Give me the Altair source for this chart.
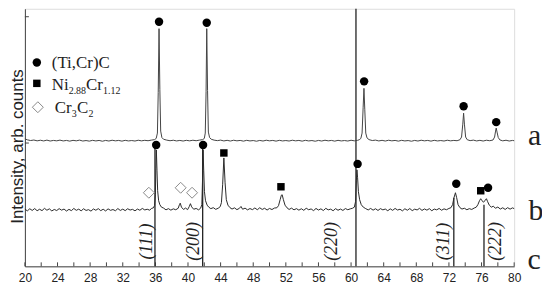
import altair as alt
import pandas as pd

# ---- data (2-theta in degrees, intensity in arbitrary units) ----
TRACE_A = [
    (20.0, 128.2), (20.3, 127.2), (20.7, 126.5), (21.1, 127.0), (21.5, 126.2), (21.9, 126.8),
    (22.3, 126.1), (22.7, 126.9), (23.1, 126.0), (23.5, 126.6), (23.9, 126.2), (24.3, 126.9),
    (24.7, 126.1), (25.1, 126.6), (25.5, 125.9), (25.9, 126.7), (26.3, 126.2), (26.7, 126.9),
    (27.1, 126.0), (27.5, 126.5), (27.9, 125.9), (28.3, 126.7), (28.7, 126.1), (29.1, 126.6),
    (29.5, 125.8), (29.9, 126.6), (30.3, 126.0), (30.7, 126.8), (31.1, 126.2), (31.5, 126.6),
    (31.9, 125.9), (32.3, 126.7), (32.7, 126.1), (33.1, 126.5), (33.5, 126.0), (33.9, 126.8),
    (34.3, 126.2), (34.7, 126.7), (35.1, 126.3), (35.5, 126.9), (35.9, 127.4), (36.1, 128.6),
    (36.25, 134), (36.35, 175), (36.45, 239), (36.55, 178), (36.65, 136), (36.8, 129.5),
    (37.0, 127.8), (37.4, 126.9), (37.8, 126.3), (38.2, 126.8), (38.6, 126.1), (39.0, 126.6),
    (39.4, 126.0), (39.8, 126.7), (40.2, 126.2), (40.6, 126.8), (41.0, 126.3), (41.4, 126.9),
    (41.8, 127.4), (42.0, 128.6), (42.12, 134), (42.22, 176), (42.3, 239), (42.4, 177),
    (42.5, 135), (42.65, 129.5), (42.85, 127.8), (43.2, 126.9), (43.6, 126.4), (44.0, 126.9),
    (44.4, 126.1), (44.8, 126.7), (45.2, 126.0), (45.6, 126.8), (46.0, 126.2), (46.4, 126.6),
    (46.8, 125.9), (47.2, 126.7), (47.6, 126.1), (48.0, 126.5), (48.4, 125.8), (48.8, 126.6),
    (49.2, 126.0), (49.6, 126.8), (50.0, 126.2), (50.4, 126.6), (50.8, 125.9), (51.2, 126.7),
    (51.6, 126.1), (52.0, 126.5), (52.4, 126.0), (52.8, 126.8), (53.2, 126.2), (53.6, 126.6),
    (54.0, 125.9), (54.4, 126.7), (54.8, 126.1), (55.2, 126.5), (55.6, 125.8), (56.0, 126.6),
    (56.4, 126.0), (56.8, 126.8), (57.2, 126.2), (57.6, 126.6), (58.0, 125.9), (58.4, 126.7),
    (58.8, 126.1), (59.2, 126.5), (59.6, 126.0), (60.0, 126.8), (60.4, 126.2), (60.8, 126.7),
    (61.0, 127.3), (61.2, 128.6), (61.35, 134), (61.48, 160), (61.58, 179), (61.68, 158),
    (61.8, 134), (61.95, 129.2), (62.2, 127.4), (62.6, 126.5), (63.0, 126.9), (63.4, 126.1),
    (63.8, 126.7), (64.2, 126.0), (64.6, 126.8), (65.0, 126.2), (65.4, 126.6), (65.8, 125.9),
    (66.2, 126.7), (66.6, 126.1), (67.0, 126.5), (67.4, 125.8), (67.8, 126.6), (68.2, 126.0),
    (68.6, 126.8), (69.0, 126.2), (69.4, 126.6), (69.8, 125.9), (70.2, 126.7), (70.6, 126.1),
    (71.0, 126.5), (71.4, 126.0), (71.8, 126.8), (72.2, 126.2), (72.6, 126.6), (73.0, 126.3),
    (73.35, 127.3), (73.55, 130), (73.7, 143), (73.8, 154), (73.9, 143), (74.05, 130),
    (74.25, 127.3), (74.6, 126.4), (75.0, 126.9), (75.4, 126.1), (75.8, 126.7), (76.2, 126.0),
    (76.6, 126.8), (77.0, 126.3), (77.4, 127.0), (77.6, 130), (77.72, 136), (77.8, 139),
    (77.9, 135), (78.05, 129.5), (78.25, 127.1), (78.6, 126.2), (79.0, 126.8), (79.4, 126.0),
    (79.8, 126.6), (80.0, 126.3),
]

TRACE_B = [
    (20.0, 57.5), (20.3, 55.8), (20.6, 57.9), (20.9, 56.2), (21.2, 58.1), (21.5, 55.9),
    (21.8, 57.4), (22.1, 56.0), (22.4, 58.3), (22.7, 56.4), (23.0, 57.8), (23.3, 55.7),
    (23.6, 57.2), (23.9, 56.1), (24.2, 58.0), (24.5, 56.5), (24.8, 57.6), (25.1, 55.6),
    (25.4, 57.3), (25.7, 56.0), (26.0, 58.2), (26.3, 56.3), (26.6, 57.5), (26.9, 55.8),
    (27.2, 57.9), (27.5, 56.2), (27.8, 57.0), (28.1, 55.5), (28.4, 57.7), (28.7, 56.4),
    (29.0, 58.0), (29.3, 56.0), (29.6, 57.4), (29.9, 55.7), (30.2, 57.8), (30.5, 56.3),
    (30.8, 57.1), (31.1, 55.9), (31.4, 58.1), (31.7, 56.2), (32.0, 57.5), (32.3, 56.0),
    (32.6, 57.9), (32.9, 56.6), (33.2, 57.3), (33.5, 55.8), (33.8, 57.6), (34.1, 56.4),
    (34.4, 58.2), (34.7, 56.7), (35.0, 57.4), (35.3, 56.5), (35.55, 58.3), (35.75, 58.8),
    (35.9, 61), (36.0, 72), (36.06, 98), (36.12, 117), (36.2, 96), (36.28, 76),
    (36.4, 66), (36.55, 62), (36.75, 59.5), (37.0, 58.6), (37.3, 56.8), (37.6, 58.0),
    (37.9, 56.5), (38.2, 57.8), (38.5, 56.9), (38.8, 58.4), (38.95, 62), (39.05, 63.5),
    (39.2, 59.5), (39.45, 57.2), (39.7, 58.6), (39.95, 57.0), (40.15, 60.0), (40.3, 63.0),
    (40.45, 59.8), (40.7, 57.4), (41.0, 58.2), (41.3, 56.8), (41.55, 58.5), (41.7, 62),
    (41.78, 86), (41.85, 117), (41.93, 96), (42.02, 75), (42.15, 66), (42.35, 61.5),
    (42.55, 59.5), (42.8, 58.0), (43.1, 59.0), (43.4, 57.3), (43.7, 58.4), (43.95, 60),
    (44.1, 64), (44.25, 82), (44.4, 109), (44.55, 84), (44.7, 67), (44.9, 61.5),
    (45.15, 59.0), (45.4, 57.6), (45.7, 58.8), (46.0, 57.0), (46.3, 58.3), (46.5, 60.2),
    (46.7, 57.4), (47.0, 58.5), (47.3, 56.8), (47.6, 58.1), (47.9, 57.0), (48.2, 58.7),
    (48.5, 56.9), (48.8, 58.9), (49.1, 57.2), (49.4, 58.4), (49.7, 56.6), (50.0, 58.2),
    (50.3, 57.1), (50.6, 58.6), (50.9, 58.9), (51.1, 61), (51.3, 67), (51.45, 71.5),
    (51.55, 72), (51.7, 67), (51.9, 61.5), (52.15, 58.8), (52.4, 57.2), (52.7, 58.5),
    (53.0, 56.8), (53.3, 58.0), (53.6, 56.5), (53.9, 57.9), (54.2, 56.3), (54.5, 58.4),
    (54.8, 56.9), (55.1, 57.7), (55.4, 56.0), (55.7, 58.2), (56.0, 56.6), (56.3, 57.8),
    (56.6, 56.1), (56.9, 58.3), (57.2, 56.8), (57.5, 57.5), (57.8, 55.9), (58.1, 58.0),
    (58.4, 56.4), (58.7, 57.6), (59.0, 56.2), (59.3, 58.1), (59.6, 56.9), (59.9, 57.8),
    (60.15, 58.3), (60.4, 59.5), (60.55, 65), (60.65, 86), (60.72, 97), (60.8, 89),
    (60.9, 75), (61.05, 67), (61.25, 62), (61.5, 59.5), (61.8, 58.0), (62.1, 56.7),
    (62.4, 58.2), (62.7, 56.5), (63.0, 57.9), (63.3, 56.2), (63.6, 58.0), (63.9, 56.8),
    (64.2, 57.6), (64.5, 55.9), (64.8, 57.8), (65.1, 56.3), (65.4, 58.2), (65.7, 56.6),
    (66.0, 57.4), (66.3, 55.8), (66.6, 57.9), (66.9, 56.4), (67.2, 58.1), (67.5, 56.0),
    (67.8, 57.5), (68.1, 56.7), (68.4, 58.3), (68.7, 56.2), (69.0, 57.7), (69.3, 56.5),
    (69.6, 58.0), (69.9, 55.9), (70.2, 57.6), (70.5, 56.8), (70.8, 58.2), (71.1, 56.4),
    (71.4, 57.8), (71.7, 56.9), (72.0, 58.2), (72.25, 59.0), (72.45, 62), (72.62, 69),
    (72.8, 74), (72.95, 69), (73.12, 62), (73.35, 59), (73.6, 57.6), (73.9, 58.4),
    (74.2, 56.9), (74.5, 58.0), (74.8, 57.2), (75.1, 58.6), (75.35, 59.5), (75.55, 62),
    (75.75, 66), (75.9, 68), (76.05, 66), (76.25, 64.5), (76.45, 66.5), (76.6, 68),
    (76.75, 65), (76.95, 61.5), (77.2, 59.5), (77.45, 60.5), (77.7, 58.4), (78.0, 59.6),
    (78.3, 57.6), (78.6, 58.9), (78.9, 57.2), (79.2, 59.0), (79.5, 57.5), (79.8, 58.8),
    (80.0, 58.0),
]

STICK_X = [35.95, 41.8, 60.6, 72.6, 76.3]
STICK_TOP = [119, 122, 259, 69, 62]
STICK_LABELS = ["(111)", "(200)", "(220)", "(311)", "(222)"]

CIRCLE_X = [36.45, 42.3, 61.6, 73.8, 77.8, 36.1, 41.85, 60.8, 72.9, 76.8]
CIRCLE_Y = [246, 245, 186, 161, 145, 122, 122, 103, 83, 79]
SQUARE_X = [44.4, 51.4, 75.9]
SQUARE_Y = [114, 80, 76]
DIAMOND_X = [35.2, 39.1, 40.5]
DIAMOND_Y = [74, 79, 74]

X_TICKS = [20, 22, 24, 26, 28, 30, 32, 34, 36, 38, 40, 42, 44, 46, 48, 50, 52, 54, 56, 58,
           60, 62, 64, 66, 68, 70, 72, 74, 76, 78, 80]
X_LABELS = [20, 24, 28, 32, 36, 40, 44, 48, 52, 56, 60, 64, 68, 72, 76, 80]
Y_TICKS = [124, 251]

TRACE_NAMES = ["a", "b", "c"]

# ---- styling ----
SANS = "Liberation Sans"
SERIF = "Liberation Serif"
INK = "#222222"
W, H = 492, 259

xs = alt.Scale(domain=[20, 80], nice=False, zero=False)
ys = alt.Scale(domain=[0, 259], nice=False, zero=False)

AX_X = alt.Axis(values=X_LABELS, ticks=False, grid=False, title=None, labelFont=SANS,
                labelFontSize=12, labelColor=INK, labelPadding=6, domainColor="#444",
                domainWidth=1, labelFlush=False)
AX_Y = alt.Axis(labels=False, ticks=False, grid=False, domainColor="#444", domainWidth=1,
                title="Intensity, arb. counts", titleFont=SANS, titleFontSize=17,
                titleFontWeight="normal", titleColor=INK, titleAngle=270, titleX=-7,
                titleY=138, titleAlign="center", titleBaseline="middle")


def X(f="x"):
    return alt.X(f"{f}:Q", scale=xs, axis=AX_X, title=None)


def Y(f="y"):
    return alt.Y(f"{f}:Q", scale=ys, axis=AX_Y, title="Intensity, arb. counts")


one = pd.DataFrame({"k": [0]})

xticks = alt.Chart(pd.DataFrame({"x": X_TICKS})).mark_rule(color="#444", strokeWidth=1).encode(
    x=X(), y=alt.value(H), y2=alt.value(H - 4))
yticks = alt.Chart(pd.DataFrame({"y": Y_TICKS})).mark_rule(color="#444", strokeWidth=1).encode(
    y=Y(), x=alt.value(0), x2=alt.value(4))

df_a = pd.DataFrame(TRACE_A, columns=["x", "y"])
df_b = pd.DataFrame(TRACE_B, columns=["x", "y"])
line_a = alt.Chart(df_a).mark_line(color="#444", strokeWidth=1).encode(x=X(), y=Y())
line_b = alt.Chart(df_b).mark_line(color="#2a2a2a", strokeWidth=1).encode(x=X(), y=Y())

sticks_df = pd.DataFrame({"x": STICK_X, "y": [0] * len(STICK_X), "top": STICK_TOP})
sticks = alt.Chart(sticks_df).mark_rule(color=INK, strokeWidth=1.3).encode(
    x=X(), y=Y(), y2="top:Q")

label_dy = [-8, -8.5, -24, -10, 12]
stick_labels = []
for i, lab in enumerate(STICK_LABELS):
    stick_labels.append(
        alt.Chart(pd.DataFrame({"x": [STICK_X[i]], "t": [lab]})).mark_text(
            angle=270, align="center", baseline="middle", dy=label_dy[i], font=SERIF,
            fontStyle="italic", fontSize=18, color=INK).encode(
            x=X(), y=alt.value(234), text="t:N"))

circles = alt.Chart(pd.DataFrame({"x": CIRCLE_X, "y": CIRCLE_Y})).mark_point(
    shape="circle", filled=True, size=72, color="black", opacity=1).encode(x=X(), y=Y())
squares = alt.Chart(pd.DataFrame({"x": SQUARE_X, "y": SQUARE_Y})).mark_point(
    shape="square", filled=True, size=56, color="black", opacity=1).encode(x=X(), y=Y())
diamonds = alt.Chart(pd.DataFrame({"x": DIAMOND_X, "y": DIAMOND_Y})).mark_point(
    shape="diamond", filled=False, size=121, stroke="#888", fill="white", fillOpacity=1,
    strokeWidth=1, opacity=1).encode(x=X(), y=Y())


def txt(s, px, py, size=17, baseline="alphabetic", font=SERIF, align="left"):
    return alt.Chart(one).mark_text(text=s, align=align, baseline=baseline, font=font,
                                    fontSize=size, color=INK).encode(
        x=alt.value(px), y=alt.value(py))


def sym(shape, px, py, size, filled=True, stroke="black"):
    return alt.Chart(one).mark_point(shape=shape, filled=filled, size=size, color=stroke,
                                     fill="black" if filled else "white", fillOpacity=1,
                                     opacity=1, strokeWidth=1).encode(
        x=alt.value(px), y=alt.value(py))


legend = [
    sym("circle", 12, 54, 72),
    txt("(Ti,Cr)C", 27, 59.5),
    sym("square", 12, 75, 56),
    txt("Ni", 27, 82), txt("2.88", 44, 86, size=10), txt("Cr", 61.5, 82), txt("1.12", 78.5, 86, size=10),
    sym("diamond", 13, 99, 121, filled=False, stroke="#888"),
    txt("Cr", 30, 105), txt("3", 47, 109, size=10), txt("C", 52.5, 105), txt("2", 64, 109, size=10),
]

trace_labels = [
    txt(TRACE_NAMES[0], 512.5, 137, size=30, align="center"),
    txt(TRACE_NAMES[1], 514, 212, size=30, align="center"),
    txt(TRACE_NAMES[2], 512, 262, size=30, align="center"),
]

chart = alt.layer(
    xticks, yticks, sticks, line_a, line_b, *stick_labels,
    circles, squares, diamonds, *legend, *trace_labels,
).properties(
    width=W, height=H,
    padding={"left": 17, "top": 0, "right": 28, "bottom": 18},
    autosize=alt.AutoSizeParams(type="none"),
).configure_view(stroke=None).configure(background="white")

chart.save("out.html", embed_options={"renderer": "svg", "actions": False})
